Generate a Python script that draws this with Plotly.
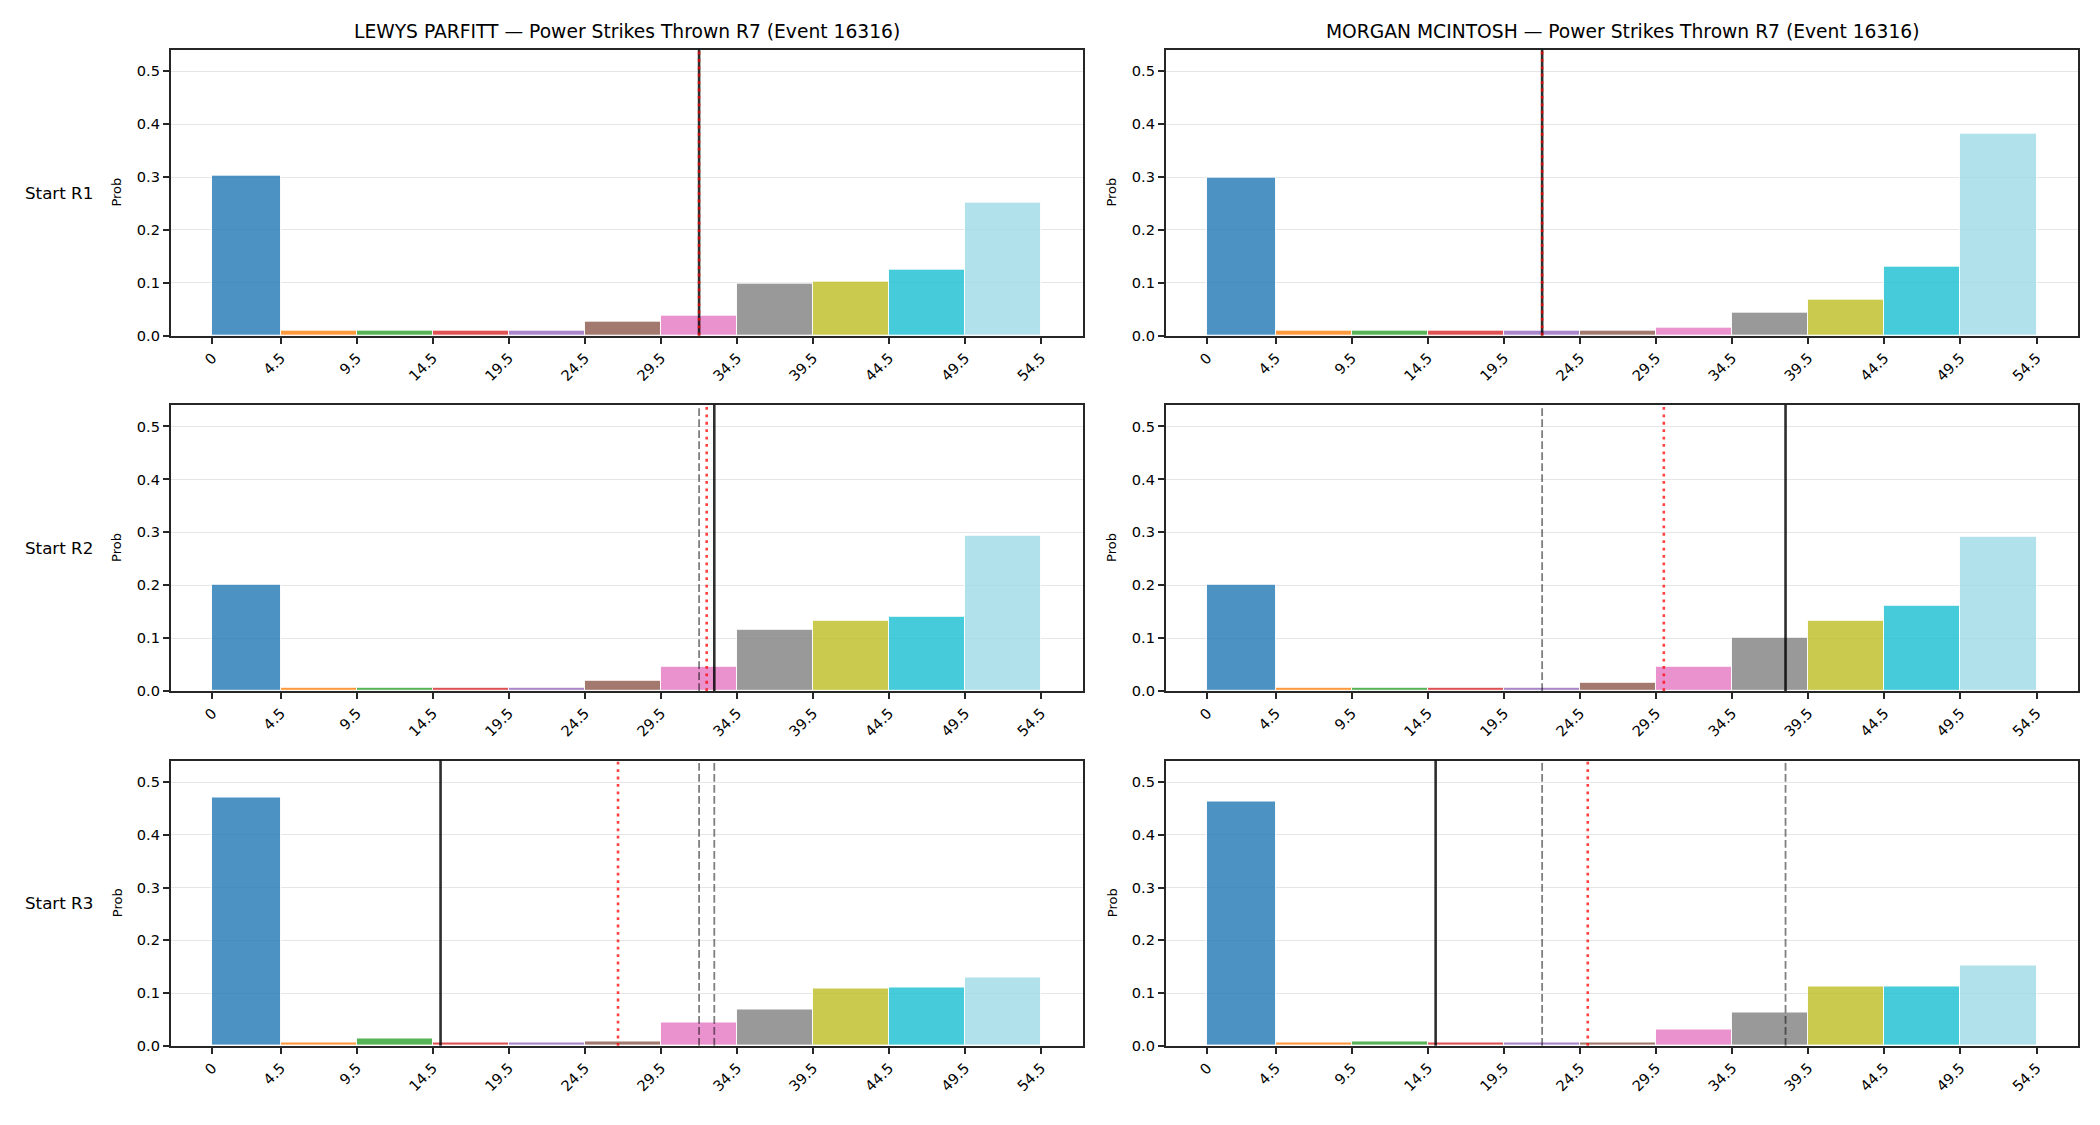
import plotly.graph_objects as go

# ---------------- data ----------------
BIN_EDGES = [0, 4.5, 9.5, 14.5, 19.5, 24.5, 29.5, 34.5, 39.5, 44.5, 49.5, 54.5]
TICK_LABELS = ["0", "4.5", "9.5", "14.5", "19.5", "24.5", "29.5", "34.5", "39.5", "44.5", "49.5", "54.5"]
BIN_COLORS = ["#1f77b4", "#ff7f0e", "#2ca02c", "#d62728", "#9467bd", "#8c564b",
              "#e377c2", "#7f7f7f", "#bcbd22", "#17becf", "#9edae5"]

FIGHTERS = ["LEWYS PARFITT", "MORGAN MCINTOSH"]
TITLE_SUFFIX = " \u2014 Power Strikes Thrown R7 (Event 16316)"
ROW_LABELS = ["Start R1", "Start R2", "Start R3"]
Y_TICKS = [0.0, 0.1, 0.2, 0.3, 0.4, 0.5]

LEWYS_R1 = [0.302, 0.009, 0.009, 0.009, 0.009, 0.026, 0.037, 0.099, 0.103, 0.125, 0.252]
LEWYS_R2 = [0.200, 0.007, 0.007, 0.007, 0.007, 0.019, 0.045, 0.115, 0.132, 0.141, 0.294]
LEWYS_R3 = [0.470, 0.007, 0.013, 0.007, 0.007, 0.009, 0.045, 0.068, 0.108, 0.110, 0.130]
MORGAN_R1 = [0.299, 0.009, 0.009, 0.009, 0.009, 0.009, 0.016, 0.043, 0.068, 0.130, 0.383]
MORGAN_R2 = [0.200, 0.007, 0.007, 0.007, 0.007, 0.015, 0.045, 0.101, 0.132, 0.161, 0.292]
MORGAN_R3 = [0.463, 0.007, 0.009, 0.007, 0.007, 0.007, 0.030, 0.064, 0.113, 0.113, 0.152]

LEWYS_ACTUAL = [32, 33, 15]
MORGAN_ACTUAL = [22, 38, 15]
LEWYS_RUNNING_MEAN = [32, 32.5, 26.67]
MORGAN_RUNNING_MEAN = [22, 30, 25]

PROBS = [[LEWYS_R1, MORGAN_R1], [LEWYS_R2, MORGAN_R2], [LEWYS_R3, MORGAN_R3]]
ACTUALS = [LEWYS_ACTUAL, MORGAN_ACTUAL]
MEANS = [LEWYS_RUNNING_MEAN, MORGAN_RUNNING_MEAN]

# ---------------- layout helpers ----------------
W, H = 2100, 1125
FONT = "DejaVu Sans"
INK = "#262626"


def fx(px):
    return px / W


def fy(py):
    return 1 - py / H


def rgba(hexc, a):
    h = hexc.lstrip("#")
    r, g, b = int(h[0:2], 16), int(h[2:4], 16), int(h[4:6], 16)
    return f"rgba({r},{g},{b},{a})"


COL_PX = [(171, 1082.7), (1166, 2078)]
ROW_PX = [(50, 338), (407.7, 696), (766, 1053.3)]

centers = [(BIN_EDGES[i] + BIN_EDGES[i + 1]) / 2 for i in range(len(BIN_EDGES) - 1)]
widths = [BIN_EDGES[i + 1] - BIN_EDGES[i] for i in range(len(BIN_EDGES) - 1)]
xr = (BIN_EDGES[-1] - BIN_EDGES[0]) * 0.05

fig = go.Figure()
layout = dict(
    width=W, height=H,
    margin=dict(l=0, r=0, t=0, b=0),
    paper_bgcolor="white", plot_bgcolor="white",
    showlegend=False,
    font=dict(family=FONT, color="black", size=14.6),
    bargap=0,
)
shapes = []
annotations = []

for r in range(3):
    for c in range(2):
        i = r * 2 + c + 1
        xa = "x" if i == 1 else f"x{i}"
        ya = "y" if i == 1 else f"y{i}"
        fig.add_trace(go.Bar(
            x=centers, y=PROBS[r][c], width=widths,
            marker=dict(color=[rgba(cc, 0.8) for cc in BIN_COLORS],
                        line=dict(color="rgba(255,255,255,0.9)", width=1)),
            xaxis=xa, yaxis=ya, hoverinfo="x+y",
        ))
        x0, x1 = COL_PX[c]
        t0, t1 = ROW_PX[r]
        layout["xaxis" if i == 1 else f"xaxis{i}"] = dict(
            domain=[fx(x0), fx(x1)], anchor=ya,
            range=[BIN_EDGES[0] - xr, BIN_EDGES[-1] + xr],
            tickmode="array", tickvals=BIN_EDGES, ticktext=TICK_LABELS,
            tickangle=-45, ticks="outside", ticklen=6, tickwidth=1.6, tickcolor=INK,
            showline=True, mirror=True, linecolor=INK, linewidth=2.2,
            showgrid=False, zeroline=False,
            tickfont=dict(family=FONT, size=14.6, color="black"),
        )
        layout["yaxis" if i == 1 else f"yaxis{i}"] = dict(
            domain=[fy(t1), fy(t0)], anchor=xa,
            range=[0, 0.541],
            tickmode="array", tickvals=Y_TICKS, tickformat=".1f",
            ticks="outside", ticklen=6, tickwidth=1.6, tickcolor=INK,
            showline=True, mirror=True, linecolor=INK, linewidth=2.2,
            showgrid=True, gridcolor="#e6e6e6", gridwidth=1.2, zeroline=False,
            tickfont=dict(family=FONT, size=14.6, color="black"),
        )
        # previous rounds: grey dashed
        for k in range(r):
            shapes.append(dict(type="line", xref=xa, yref=f"{ya} domain",
                               x0=ACTUALS[c][k], x1=ACTUALS[c][k], y0=0, y1=1,
                               line=dict(color="rgba(0,0,0,0.5)", width=1.8, dash="7.7px,3.3px")))
        # current round: black solid
        shapes.append(dict(type="line", xref=xa, yref=f"{ya} domain",
                           x0=ACTUALS[c][r], x1=ACTUALS[c][r], y0=0, y1=1,
                           line=dict(color="rgba(0,0,0,0.82)", width=2.6)))
        # running mean: red dotted
        shapes.append(dict(type="line", xref=xa, yref=f"{ya} domain",
                           x0=MEANS[c][r], x1=MEANS[c][r], y0=0, y1=1,
                           line=dict(color="rgba(255,0,0,0.75)", width=2.6, dash="2.8px,4.6px")))
        # y label
        annotations.append(dict(text="Prob", xref="paper", yref="paper",
                                x=fx(x0 - 54), y=fy((t0 + t1) / 2),
                                xanchor="center", yanchor="middle", textangle=-90,
                                showarrow=False, font=dict(family=FONT, size=13, color="black")))
    # row label
    t0, t1 = ROW_PX[r]
    annotations.append(dict(text=ROW_LABELS[r], xref="paper", yref="paper",
                            x=fx(23), y=fy((t0 + t1) / 2), xanchor="left", yanchor="middle",
                            showarrow=False, font=dict(family=FONT, size=16.7, color="black")))

for c in range(2):
    x0, x1 = COL_PX[c]
    annotations.append(dict(text=FIGHTERS[c] + TITLE_SUFFIX, xref="paper", yref="paper",
                            x=fx((x0 + x1) / 2), y=fy(31.5), xanchor="center", yanchor="middle",
                            showarrow=False, font=dict(family=FONT, size=18.7, color="black")))

layout["shapes"] = shapes
layout["annotations"] = annotations
fig.update_layout(**layout)
fig.write_html("out.html")
